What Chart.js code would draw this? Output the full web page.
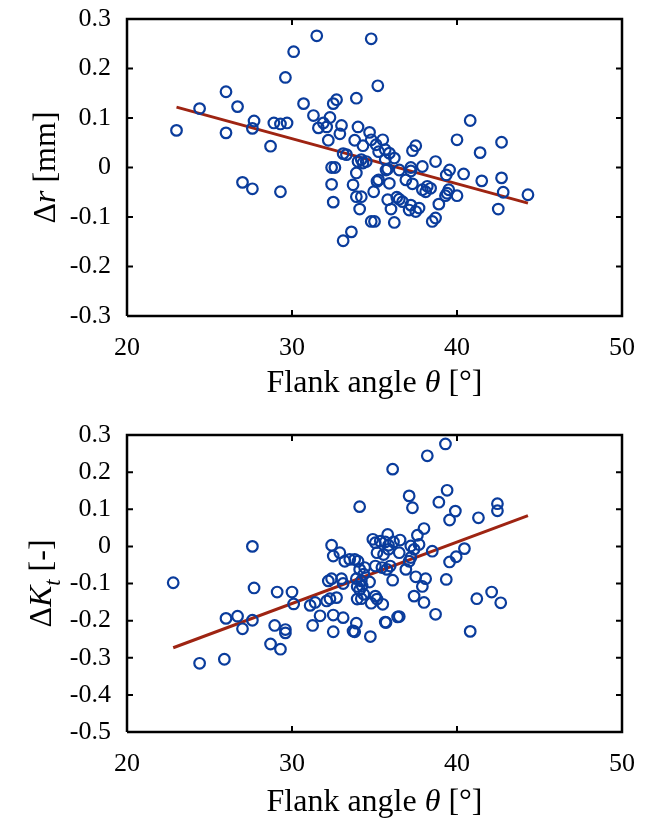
<!DOCTYPE html>
<html>
<head>
<meta charset="utf-8">
<script src="https://cdn.jsdelivr.net/npm/chart.js@4.4.0/dist/chart.umd.min.js"></script>
<style>
  body { margin: 0; background: #fff; }
  canvas { display: block; }
</style>
</head>
<body>
<canvas id="chartTop" width="648" height="410"></canvas>
<canvas id="chartBot" width="648" height="410"></canvas>
<script>
// flank angle vs delta r (top)
let thetaTop = [23.0,24.4,26.0,26.0,26.7,27.7,27.6,28.7,28.9,29.3,29.7,29.6,30.1,31.5,30.7,31.3,31.6,31.9,32.3,32.1,
  32.5,32.7,32.2,33.0,32.9,33.9,34.0,33.8,34.3,33.1,33.3,34.8,32.4,32.6,33.9,34.0,34.2,34.5,27.0,27.6,
  29.3,32.4,32.5,33.7,33.9,34.2,34.1,34.8,33.6,33.1,35.2,34.7,35.5,34.8,35.1,35.25,35.65,35.9,35.65,36.2,
  40.8,40.0,41.4,42.7,37.5,37.3,38.7,37.9,37.2,39.55,39.35,40.4,42.7,41.5,44.3,42.8,42.5,40.0,39.4,39.5,
  39.3,38.9,38.7,38.5,38.4,38.1,38.2,37.9,37.7,37.5,37.2,37.1,36.5,36.7,35.8,36.0,36.2,35.0,34.95,35.9,
  35.25,35.15,36.9,37.3,37.2,35.7,36.5,36.35,35.8,34.3]
let deltaR = [0.075,0.119,0.153,0.070,0.123,0.094,0.079,0.043,0.090,0.088,0.090,0.182,0.234,0.266,0.129,0.105,0.080,0.090,0.101,0.082,
  0.129,0.137,0.055,0.085,0.068,0.140,0.082,0.055,0.044,0.028,0.026,0.260,0.000,0.000,-0.011,0.012,0.016,0.012,-0.030,-0.043,
  -0.049,-0.034,-0.070,-0.035,-0.059,-0.059,-0.084,-0.109,-0.130,-0.148,0.165,0.071,0.056,0.056,0.046,0.032,0.036,0.029,0.016,0.019,
  0.095,0.056,0.030,0.051,0.044,0.034,0.012,0.002,0.000,-0.005,-0.015,-0.013,-0.021,-0.027,-0.055,-0.050,-0.084,-0.057,-0.052,-0.045,
  -0.057,-0.074,-0.102,-0.109,-0.042,-0.049,-0.038,-0.045,-0.082,-0.089,-0.076,-0.086,-0.064,-0.069,-0.065,-0.084,-0.111,-0.109,-0.049,-0.032,
  -0.025,-0.028,-0.025,-0.033,-0.007,-0.005,-0.005,-0.060,-0.003,0.009]
let fitTopX = [23.0, 44.3]
let fitTopY = [0.122, -0.072]
let ticksTopY = [-0.3, -0.2, -0.1, 0, 0.1, 0.2, 0.3]

// flank angle vs delta Kt (bottom)
let thetaBot = [22.8,24.4,25.9,26.0,26.7,27.0,27.6,27.6,27.7,29.1,28.95,28.7,29.3,29.6,29.6,30.0,30.1,
  31.25,31.1,31.4,31.7,32.1,32.3,32.7,32.5,33.1,32.2,32.4,33.0,33.1,32.4,32.5,32.9,33.2,33.5,33.8,34.0,
  32.5,33.7,33.9,33.8,34.75,34.1,33.9,34.2,34.7,33.95,34.1,34.25,34.35,34.1,34.35,34.4,
  33.95,34.2,34.8,35.15,35.5,35.05,34.9,35.05,35.35,35.65,35.85,36.15,36.55,35.8,
  35.15,35.55,35.85,36.5,35.05,35.45,35.95,35.75,36.9,35.65,36.1,36.1,36.4,35.7,36.5,
  37.1,37.2,37.2,37.4,37.7,37.6,38.0,37.1,37.3,37.5,38.1,37.9,37.4,38.0,38.5,38.7,
  38.2,38.9,39.3,39.4,39.55,39.9,39.35,39.55,39.95,40.45,40.8,41.2,41.3,42.1,42.45,42.45,42.65]
let deltaKt = [-0.098,-0.315,-0.304,-0.194,-0.188,-0.222,0.000,-0.199,-0.112,-0.123,-0.213,-0.263,-0.277,-0.224,-0.233,-0.123,-0.155,
  -0.213,-0.159,-0.151,-0.187,-0.147,-0.141,-0.138,-0.185,-0.192,-0.093,-0.087,-0.087,-0.100,0.003,-0.026,-0.017,-0.040,-0.035,-0.035,-0.040,
  -0.230,-0.228,-0.207,-0.230,-0.243,0.107,-0.087,-0.093,-0.096,-0.108,-0.117,-0.107,-0.129,-0.062,-0.075,-0.057,
  -0.142,-0.141,-0.153,-0.142,-0.156,-0.134,0.019,0.010,0.014,0.012,0.003,0.012,0.017,0.032,
  -0.017,-0.022,-0.008,-0.017,-0.053,-0.057,-0.053,-0.062,-0.062,-0.204,0.208,-0.091,-0.190,-0.205,-0.189,
  -0.040,-0.030,0.001,-0.008,0.005,0.030,0.048,0.136,0.104,-0.082,-0.087,-0.108,-0.134,-0.151,-0.013,-0.183,
  0.244,0.119,0.276,0.151,0.071,0.095,-0.089,-0.042,-0.028,-0.006,-0.229,-0.141,0.077,-0.123,0.115,0.096,-0.152]
let fitBotX = [22.8, 44.3]
let fitBotY = [-0.273, 0.083]
let ticksBotY = [-0.5, -0.4, -0.3, -0.2, -0.1, 0, 0.1, 0.2, 0.3]

let ticksX = [20, 30, 40, 50]

const SERIF = "'Liberation Serif', 'Times New Roman', serif"
const BLUE = "#0a3c9c"
const RED = "#9e2412"

function pares(xs, ys) {
  return xs.map((x, i) => ({ x: x, y: ys[i] }))
}

// box round the plot, as a dataset on the axis limits
function moldura(yMin, yMax) {
  return [
    { x: ticksX[0], y: yMin }, { x: ticksX[3], y: yMin }, { x: ticksX[3], y: yMax },
    { x: ticksX[0], y: yMax }, { x: ticksX[0], y: yMin }
  ]
}

// short inward tick marks (about 6px long) split with null gaps
function marcas(yTicks, yMin, yMax, alturaPx) {
  let dx = (ticksX[3] - ticksX[0]) * 6 / 495
  let dy = (yMax - yMin) * 6 / alturaPx
  let pts = []
  ticksX.slice(1, -1).forEach(t => {
    pts.push({ x: t, y: yMin }, { x: t, y: yMin + dy }, { x: null, y: null })
    pts.push({ x: t, y: yMax }, { x: t, y: yMax - dy }, { x: null, y: null })
  })
  yTicks.slice(1, -1).forEach(t => {
    pts.push({ x: ticksX[0], y: t }, { x: ticksX[0] + dx, y: t }, { x: null, y: null })
    pts.push({ x: ticksX[3], y: t }, { x: ticksX[3] - dx, y: t }, { x: null, y: null })
  })
  return pts
}

// draws a run of text pieces (some italic / subscript) centred on 0,0
function desenharTexto(ctx, partes, size) {
  let larguras = []
  let total = 0
  partes.forEach(p => {
    let s = p.sub ? size * 0.7 : size
    ctx.font = (p.it ? "italic " : "") + s + "px " + SERIF
    let w = ctx.measureText(p.t).width
    larguras.push(w)
    total += w
  })
  let x = -total / 2
  ctx.textBaseline = "alphabetic"
  ctx.textAlign = "left"
  partes.forEach((p, i) => {
    let s = p.sub ? size * 0.7 : size
    ctx.font = (p.it ? "italic " : "") + s + "px " + SERIF
    ctx.fillText(p.t, x, size * 0.33 + (p.sub ? size * 0.3 : 0))
    x += larguras[i]
  })
}

// axis titles with italic symbols
const titulosPlugin = {
  id: "titulos",
  afterDraw(chart, args, opts) {
    let ctx = chart.ctx
    let a = chart.chartArea
    ctx.save()
    ctx.fillStyle = "#000"
    ctx.save()
    ctx.translate((a.left + a.right) / 2, opts.xTitleY)
    desenharTexto(ctx, [{ t: "Flank angle " }, { t: "θ", it: true }, { t: " [°]" }], 32)
    ctx.restore()

    ctx.save()
    ctx.translate(opts.yTitleX, (a.top + a.bottom) / 2)
    ctx.rotate(-Math.PI / 2)
    desenharTexto(ctx, opts.yTitle, 32)
    ctx.restore()
    ctx.restore()
  }
}

function montarChart(canvasId, xs, ys, fx, fy, yTicks, top, bottom, yTitle, xTitleY, yTitleX) {
  let yMin = yTicks[0]
  let yMax = yTicks[yTicks.length - 1]
  return new Chart(document.getElementById(canvasId), {
    type: "scatter",
    data: {
      datasets: [
        {
          data: pares(xs, ys),
          pointStyle: "circle",
          pointRadius: 5.3,
          pointBorderWidth: 2.2,
          pointBorderColor: BLUE,
          pointBackgroundColor: "rgba(255,255,255,0)",
          showLine: false
        },
        {
          type: "line",
          data: pares(fx, fy),
          borderColor: RED,
          borderWidth: 3,
          pointRadius: 0,
          fill: false
        },
        {
          type: "line",
          data: moldura(yMin, yMax),
          borderColor: "#000",
          borderWidth: 2.5,
          pointRadius: 0,
          fill: false,
          clip: false
        },
        {
          type: "line",
          data: marcas(yTicks, yMin, yMax, bottom - top),
          borderColor: "#000",
          borderWidth: 2,
          pointRadius: 0,
          spanGaps: false,
          fill: false,
          clip: false
        }
      ]
    },
    options: {
      responsive: false,
      animation: false,
      layout: { padding: { left: 0, right: 26, top: top, bottom: 0 } },
      plugins: {
        legend: { display: false },
        tooltip: { enabled: false },
        titulos: { yTitle: yTitle, xTitleY: xTitleY, yTitleX: yTitleX }
      },
      scales: {
        x: {
          type: "linear",
          min: 20,
          max: 50,
          grid: { display: false, drawTicks: false },
          border: { display: false },
          ticks: {
            stepSize: 10,
            padding: 17,
            color: "#000",
            font: { family: SERIF, size: 26 },
            maxRotation: 0
          },
          afterFit: (s) => {
            s.height = 410 - bottom
            s.paddingLeft = 0
            s.paddingRight = 0
          }
        },
        y: {
          min: yMin,
          max: yMax,
          grid: { display: false, drawTicks: false },
          border: { display: false },
          ticks: {
            stepSize: 0.1,
            padding: 16,
            color: "#000",
            font: { family: SERIF, size: 26 },
            callback: (v) => String(Math.round(v * 10) / 10)
          },
          afterFit: (s) => {
            s.width = 127
            s.paddingTop = 0
            s.paddingBottom = 0
          }
        }
      }
    },
    plugins: [titulosPlugin]
  })
}

montarChart("chartTop", thetaTop, deltaR, fitTopX, fitTopY, ticksTopY, 19, 316,
  [{ t: "Δ" }, { t: "r", it: true }, { t: " [mm]" }], 381, 44)

montarChart("chartBot", thetaBot, deltaKt, fitBotX, fitBotY, ticksBotY, 25, 322,
  [{ t: "Δ" }, { t: "K", it: true }, { t: "t", it: true, sub: true }, { t: " [-]" }], 390, 40)
</script>
</body>
</html>
